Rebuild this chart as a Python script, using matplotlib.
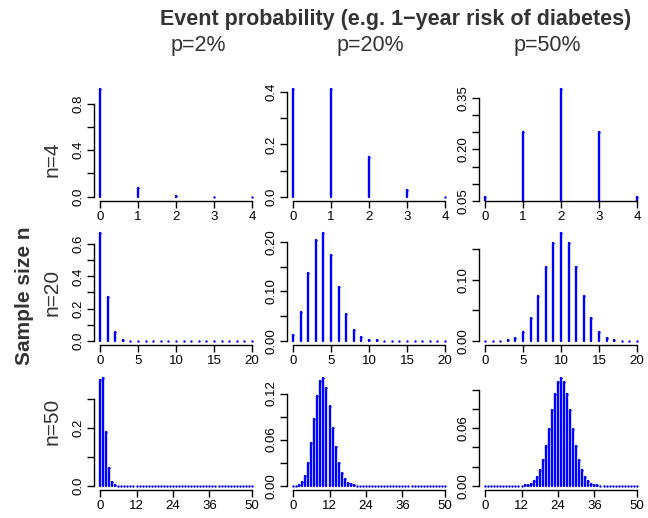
import matplotlib
matplotlib.use("Agg")
import matplotlib.pyplot as plt
import numpy as np

plt.rcParams['font.family'] = ['Liberation Sans', 'DejaVu Sans']

# binomial probabilities (rows: n, columns: p)
k4 = [0, 1, 2, 3, 4]
n4_p02 = [0.9224, 0.0753, 0.0023, 0.0, 0.0]
n4_p20 = [0.4096, 0.4096, 0.1536, 0.0256, 0.0016]
n4_p50 = [0.0625, 0.25, 0.375, 0.25, 0.0625]

k20 = list(range(21))
n20_p02 = [0.6676, 0.2725, 0.0528, 0.0065, 0.0006, 0.0, 0.0, 0.0, 0.0, 0.0, 0.0,
           0.0, 0.0, 0.0, 0.0, 0.0, 0.0, 0.0, 0.0, 0.0, 0.0]
n20_p20 = [0.0115, 0.0576, 0.1369, 0.2054, 0.2182, 0.1746, 0.1091, 0.0546, 0.0222,
           0.0074, 0.0020, 0.0005, 0.0001, 0.0, 0.0, 0.0, 0.0, 0.0, 0.0, 0.0, 0.0]
n20_p50 = [0.0, 0.0, 0.0002, 0.0011, 0.0046, 0.0148, 0.0370, 0.0739, 0.1201, 0.1602,
           0.1762, 0.1602, 0.1201, 0.0739, 0.0370, 0.0148, 0.0046, 0.0011, 0.0002,
           0.0, 0.0]

k50 = list(range(51))
n50_p02 = [0.3642, 0.3716, 0.1858, 0.0607, 0.0145, 0.0027, 0.0004, 0.0001,
           0.0, 0.0, 0.0, 0.0, 0.0, 0.0, 0.0, 0.0, 0.0, 0.0, 0.0, 0.0, 0.0,
           0.0, 0.0, 0.0, 0.0, 0.0, 0.0, 0.0, 0.0, 0.0, 0.0, 0.0, 0.0, 0.0,
           0.0, 0.0, 0.0, 0.0, 0.0, 0.0, 0.0, 0.0, 0.0, 0.0, 0.0, 0.0, 0.0,
           0.0, 0.0, 0.0, 0.0]
n50_p20 = [0.0, 0.0002, 0.0011, 0.0044, 0.0128, 0.0295, 0.0554, 0.0870, 0.1169,
           0.1364, 0.1398, 0.1271, 0.1033, 0.0755, 0.0499, 0.0299, 0.0164, 0.0082,
           0.0037, 0.0016, 0.0006, 0.0002, 0.0001, 0.0, 0.0, 0.0, 0.0, 0.0, 0.0,
           0.0, 0.0, 0.0, 0.0, 0.0, 0.0, 0.0, 0.0, 0.0, 0.0, 0.0, 0.0, 0.0, 0.0,
           0.0, 0.0, 0.0, 0.0, 0.0, 0.0, 0.0, 0.0]
n50_p50 = [0.0, 0.0, 0.0, 0.0, 0.0, 0.0, 0.0, 0.0, 0.0, 0.0, 0.0, 0.0, 0.0001,
           0.0003, 0.0008, 0.0020, 0.0044, 0.0087, 0.0160, 0.0270, 0.0419, 0.0598,
           0.0788, 0.0960, 0.1080, 0.1123, 0.1080, 0.0960, 0.0788, 0.0598, 0.0419,
           0.0270, 0.0160, 0.0087, 0.0044, 0.0020, 0.0008, 0.0003, 0.0001, 0.0,
           0.0, 0.0, 0.0, 0.0, 0.0, 0.0, 0.0, 0.0, 0.0, 0.0, 0.0]

col_labels = ["p=2%", "p=20%", "p=50%"]
row_labels = ["n=4", "n=20", "n=50"]
xs = [k4, k20, k50]
data = [[n4_p02, n4_p20, n4_p50],
        [n20_p02, n20_p20, n20_p50],
        [n50_p02, n50_p20, n50_p50]]
xticks = [[0, 1, 2, 3, 4], [0, 5, 10, 15, 20], [0, 12, 24, 36, 50]]

# y ticks and which of them carry a label (R drops overlapping ones)
yticks = [
    [([0, .2, .4, .6, .8], ["0.0", "", "0.4", "", "0.8"]),
     ([0, .1, .2, .3, .4], ["0.0", "", "0.2", "", "0.4"]),
     ([.05, .10, .15, .20, .25, .30, .35], ["0.05", "", "", "0.20", "", "", "0.35"])],
    [([0, .1, .2, .3, .4, .5, .6], ["0.0", "", "0.2", "", "0.4", "", "0.6"]),
     ([0, .05, .10, .15, .20], ["0.00", "", "0.10", "", "0.20"]),
     ([0, .05, .10, .15], ["0.00", "", "0.10", ""])],
    [([0, .1, .2, .3], ["0.0", "", "0.2", ""]),
     ([0, .03, .06, .09, .12], ["0.00", "", "0.06", "", "0.12"]),
     ([0, .02, .04, .06, .08, .10], ["0.00", "", "", "0.06", "", ""])],
]

W, H = 648, 518
fig = plt.figure(figsize=(W / 100, H / 100), dpi=100)

lefts = [94, 287, 479]
tops = [85, 229, 374]
pw, ph = 164, 116
lw = 1.7

for i in range(3):
    for j in range(3):
        x = np.array(xs[i])
        y = np.array(data[i][j])
        ax = fig.add_axes([lefts[j] / W, 1 - (tops[i] + ph) / H, pw / W, ph / H])
        ax.vlines(x, 0, y, colors="blue", linewidth=lw, capstyle="round")
        # round line ends, as R's type="h" leaves a dot for zero-height spikes
        ax.plot(x, y, "o", color="blue", ms=lw, mew=0)
        xr = x.max() - x.min()
        ax.set_xlim(x.min() - 0.04 * xr, x.max() + 0.04 * xr)
        lo, hi = y.min(), y.max()
        ax.set_ylim(lo - 0.04 * (hi - lo), hi + 0.04 * (hi - lo))
        tks, lbls = yticks[i][j]
        ax.set_yticks(tks)
        ax.set_yticklabels(lbls, rotation=90, va="center")
        ax.set_xticks(xticks[i])
        ax.set_xticklabels([str(t) for t in xticks[i]])
        for s in ["top", "right"]:
            ax.spines[s].set_visible(False)
        ax.spines["left"].set_bounds(tks[0], tks[-1])
        ax.spines["bottom"].set_bounds(xticks[i][0], xticks[i][-1])
        ax.spines["left"].set_linewidth(1.0)
        ax.spines["bottom"].set_linewidth(1.0)
        ax.tick_params(direction="out", length=5, width=1.0, labelsize=9.5,
                       colors="black", pad=2)
        ax.patch.set_visible(False)

fig.text(396 / W, 1 - 19 / H, "Event probability (e.g. 1\u2212year risk of diabetes)",
         ha="center", va="center", fontsize=15.5, fontweight="bold", color="#333333")
for cx, lab in zip([198, 370, 547], col_labels):
    fig.text(cx / W, 1 - 46 / H, lab, ha="center", va="center", fontsize=15.5,
             color="#333333")

for cy, lab in zip([159, 292, 421], row_labels):
    fig.text(52 / W, 1 - cy / H, lab, ha="center", va="center", rotation=90,
             fontsize=15, color="#333333")
fig.text(25 / W, 1 - 296 / H, "Sample size n", ha="center", va="center",
         rotation=90, fontsize=15, fontweight="bold", color="#333333")

fig.savefig("out.png", dpi=100)
